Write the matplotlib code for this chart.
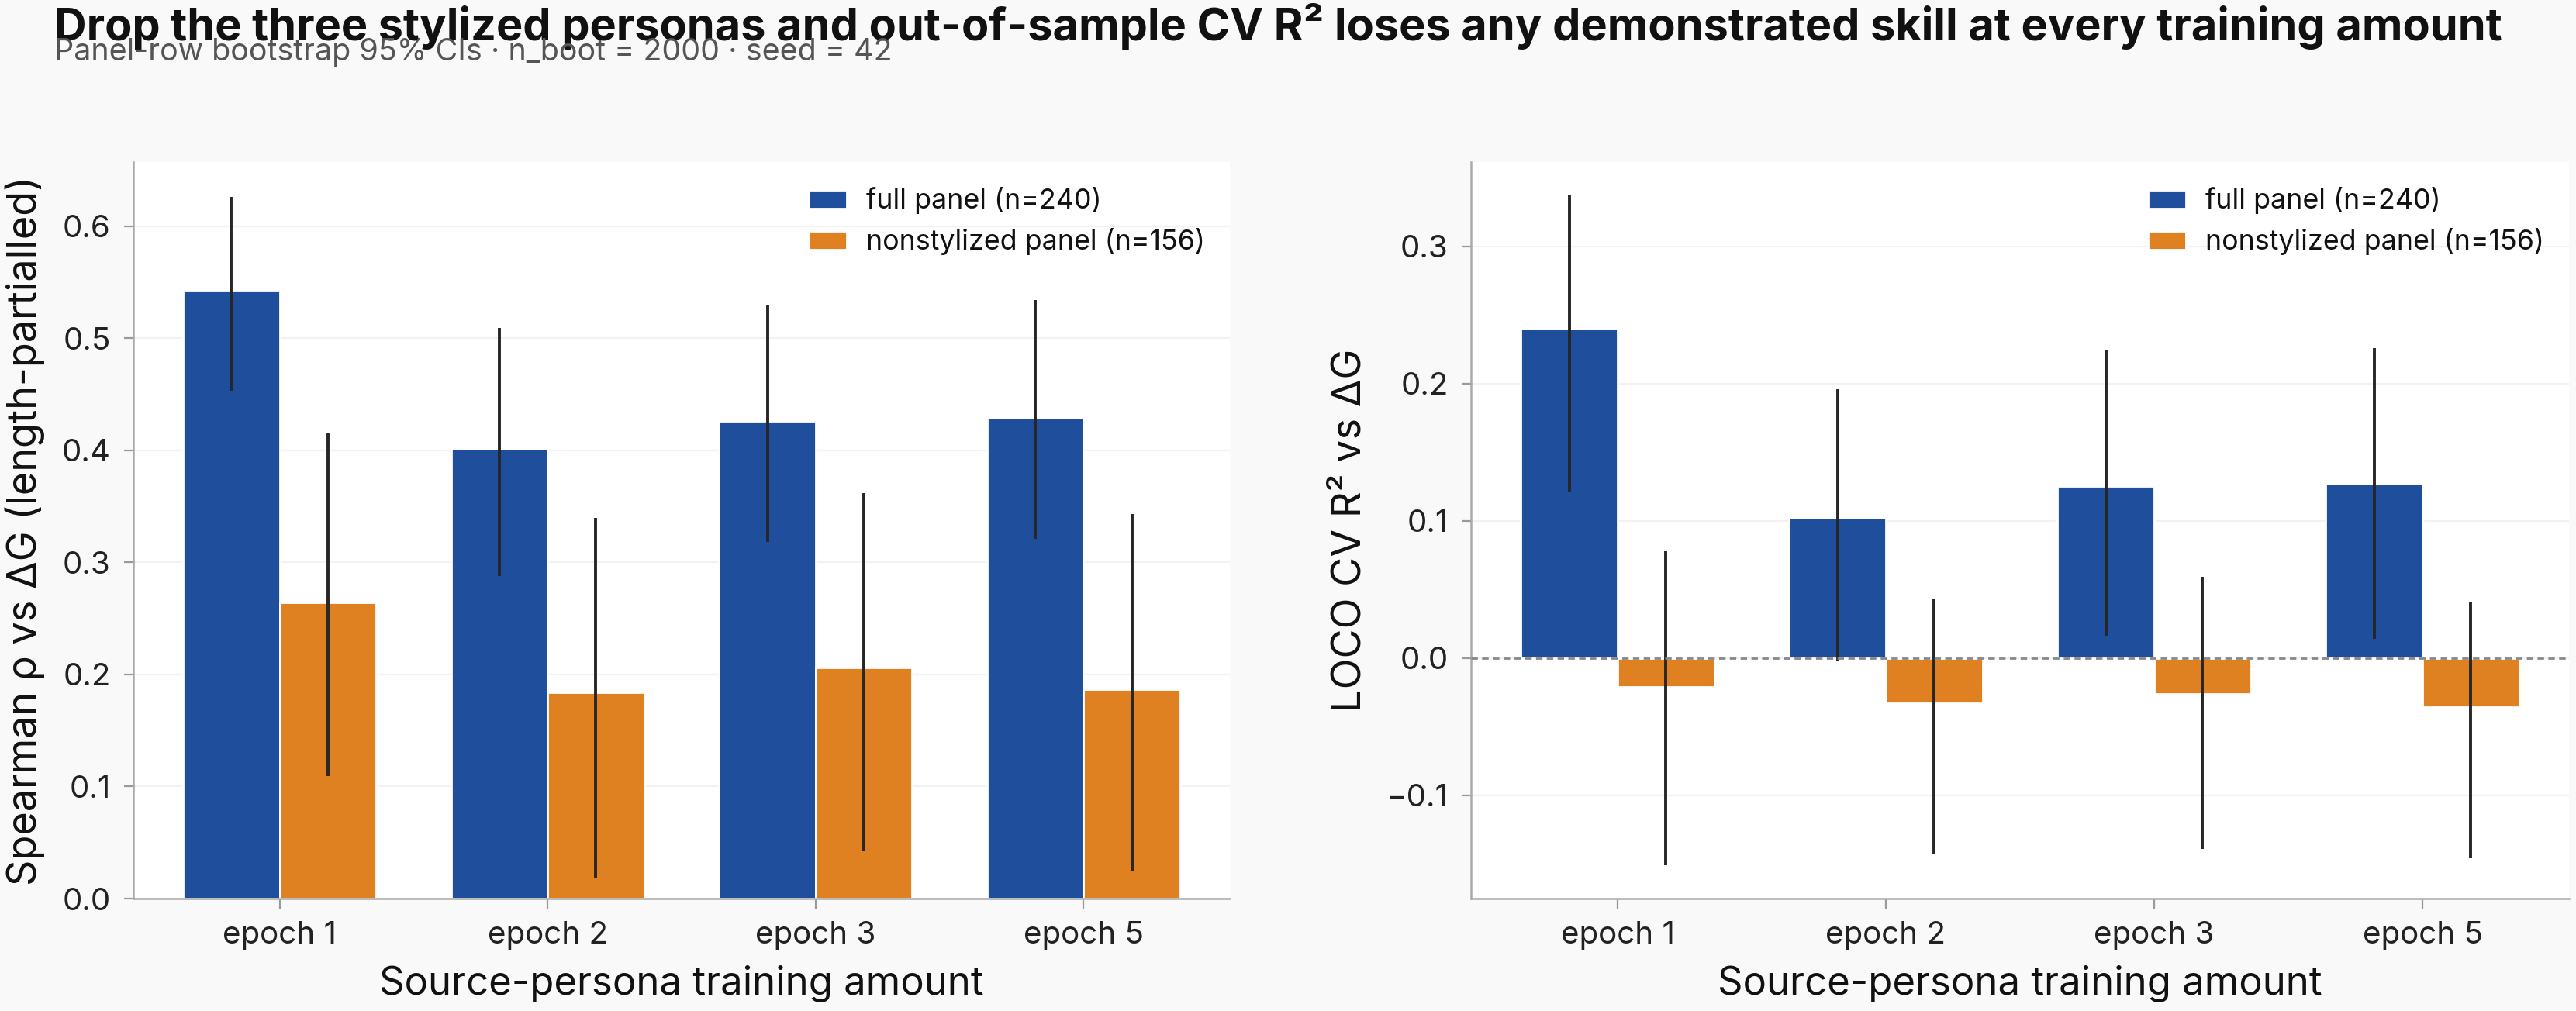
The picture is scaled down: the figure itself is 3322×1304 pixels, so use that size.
import matplotlib
matplotlib.use("Agg")
import matplotlib.pyplot as plt
import numpy as np

plt.rcParams['font.family'] = ['Inter', 'DejaVu Sans']

categories = ["epoch 1", "epoch 2", "epoch 3", "epoch 5"]
series_names = ["full panel (n=240)", "nonstylized panel (n=156)"]

# Left panel: Spearman rho (length-partialled)
rho_full = [0.543, 0.401, 0.426, 0.429]
rho_full_lo = [0.453, 0.288, 0.318, 0.321]
rho_full_hi = [0.626, 0.509, 0.529, 0.534]
rho_non = [0.264, 0.184, 0.206, 0.187]
rho_non_lo = [0.109, 0.019, 0.043, 0.024]
rho_non_hi = [0.416, 0.340, 0.362, 0.343]

# Right panel: LOCO CV R^2
r2_full = [0.240, 0.102, 0.125, 0.127]
r2_full_lo = [0.121, -0.002, 0.016, 0.014]
r2_full_hi = [0.337, 0.196, 0.224, 0.226]
r2_non = [-0.021, -0.033, -0.026, -0.036]
r2_non_lo = [-0.151, -0.143, -0.139, -0.146]
r2_non_hi = [0.078, 0.043, 0.059, 0.041]

title = "Drop the three stylized personas and out-of-sample CV R\u00b2 loses any demonstrated skill at every training amount"
subtitle = "Panel-row bootstrap 95% CIs \u00b7 n_boot = 2000 \u00b7 seed = 42"

BLUE = "#1f4e9c"
ORANGE = "#e08121"
BG = "#f9f9f9"

W, H, DPI = 3323, 1304, 200
fig = plt.figure(figsize=(W / DPI, H / DPI), dpi=DPI, facecolor=BG)

def px_axes(x0, x1, y0, y1):
    return fig.add_axes([x0 / W, 1 - y1 / H, (x1 - x0) / W, (y1 - y0) / H])

axL = px_axes(172, 1586, 209, 1159)
axR = px_axes(1897, 3313, 209, 1159)

def draw(ax, full, flo, fhi, non, nlo, nhi, ylabel):
    x = np.arange(len(categories))
    w = 0.36
    full = np.array(full); non = np.array(non)
    ferr = [full - np.array(flo), np.array(fhi) - full]
    nerr = [non - np.array(nlo), np.array(nhi) - non]
    ax.bar(x - w / 2, full, w, color=BLUE, edgecolor="white", linewidth=1.0,
           yerr=ferr, error_kw=dict(ecolor="#262626", elinewidth=1.4, capsize=0),
           label=series_names[0], zorder=2)
    ax.bar(x + w / 2, non, w, color=ORANGE, edgecolor="white", linewidth=1.0,
           yerr=nerr, error_kw=dict(ecolor="#262626", elinewidth=1.4, capsize=0),
           label=series_names[1], zorder=2)
    ax.set_facecolor("white")
    ax.set_xticks(x)
    ax.set_xticklabels(categories)
    ax.set_xlabel("Source-persona training amount", fontsize=18.3, color="#111111", labelpad=7)
    ax.set_ylabel(ylabel, fontsize=18.8, color="#111111", labelpad=8)
    for s in ["top", "right"]:
        ax.spines[s].set_visible(False)
    for s in ["left", "bottom"]:
        ax.spines[s].set_color("#aaaaaa")
        ax.spines[s].set_linewidth(0.9)
    ax.tick_params(axis="both", colors="#999999", labelcolor="#222222",
                   labelsize=14.5, length=4.5, width=0.8, pad=6)
    ax.yaxis.grid(True, color="#f2f2f2", linewidth=0.8, zorder=0)
    ax.set_axisbelow(True)
    leg = ax.legend(loc="upper right", frameon=False, fontsize=12.9,
                    handlelength=1.37, handleheight=0.65, handletextpad=0.7)
    for t in leg.get_texts():
        t.set_color("#111111")

draw(axL, rho_full, rho_full_lo, rho_full_hi, rho_non, rho_non_lo, rho_non_hi,
     "Spearman \u03c1 vs \u0394G (length-partialled)")
draw(axR, r2_full, r2_full_lo, r2_full_hi, r2_non, r2_non_lo, r2_non_hi,
     "LOCO CV R\u00b2 vs \u0394G")
axR.axhline(0, color="#888888", linestyle=(0, (3, 2)), linewidth=1.0, zorder=3)
axL.set_yticks([0.0, 0.1, 0.2, 0.3, 0.4, 0.5, 0.6])
axR.set_yticks([-0.1, 0.0, 0.1, 0.2, 0.3])

fig.text(70 / W, 1 - 52 / H, title, fontsize=20.75, fontweight="bold",
         color="#111111", ha="left", va="baseline")
fig.text(70 / W, 1 - 78 / H, subtitle, fontsize=14.2, color="#555555",
         ha="left", va="baseline")

fig.savefig("out.png", dpi=DPI, facecolor=BG)
